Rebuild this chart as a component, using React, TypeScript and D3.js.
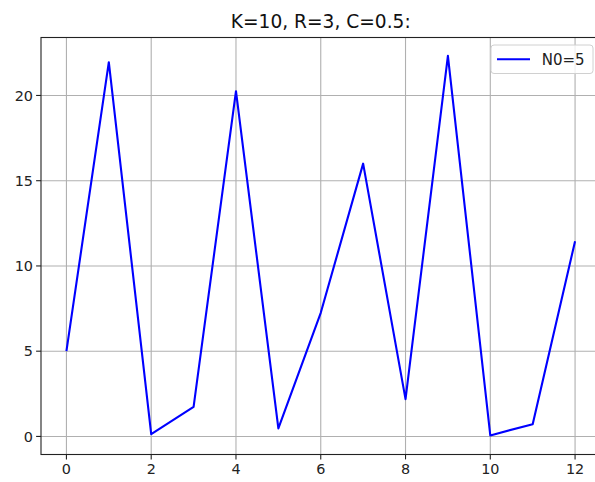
import React from 'react';
import * as d3 from 'd3';

const steps = [0, 1, 2, 3, 4, 5, 6, 7, 8, 9, 10, 11, 12];
const population = [5, 21.95, 0.13, 1.74, 20.25, 0.47, 7.25, 16.0, 2.19, 22.32, 0.06, 0.72, 11.45];
const xTicks = [0, 2, 4, 6, 8, 10, 12];
const yTicks = [0, 5, 10, 15, 20];
const seriesLabel = 'N0=5';
const title = 'K=10, R=3, C=0.5:';

const W = 595;
const H = 482;
const left = 41;
const top = 37.5;
const right = 600.5;
const bottom = 454.5;
const font = 'DejaVu Sans, sans-serif';

export default function App() {
  const x = d3.scaleLinear().domain([-0.6, 12.6]).range([left, right]);
  const y = d3.scaleLinear().domain([-1.06, 23.4]).range([bottom, top]);

  const line = d3
    .line<number>()
    .x((d, i) => x(steps[i]))
    .y((d) => y(d));

  return (
    <svg
      width={W}
      height={H}
      style={{ position: 'absolute', left: 0, top: 0, background: '#fff' }}
      fontFamily={font}
    >
      <rect x={0} y={0} width={W} height={H} fill="#fff" />
      {/* grid */}
      {xTicks.map((t) => (
        <line key={'gx' + t} x1={x(t)} x2={x(t)} y1={top} y2={bottom} stroke="#b0b0b0" strokeWidth={1.1} />
      ))}
      {yTicks.map((t) => (
        <line key={'gy' + t} x1={left} x2={right} y1={y(t)} y2={y(t)} stroke="#b0b0b0" strokeWidth={1.1} />
      ))}

      <path d={line(population) || ''} fill="none" stroke="#0000ff" strokeWidth={2.1} strokeLinejoin="round" />

      {/* spines */}
      <rect x={left} y={top} width={right - left} height={bottom - top} fill="none" stroke="#222" strokeWidth={1.1} />

      {/* ticks */}
      {xTicks.map((t) => (
        <g key={'tx' + t}>
          <line x1={x(t)} x2={x(t)} y1={bottom} y2={bottom + 4.9} stroke="#222" strokeWidth={1.1} />
          <text x={x(t)} y={bottom + 19.5} textAnchor="middle" fontSize={14.4} fill="#222">
            {t}
          </text>
        </g>
      ))}
      {yTicks.map((t) => (
        <g key={'ty' + t}>
          <line x1={left - 4.9} x2={left} y1={y(t)} y2={y(t)} stroke="#222" strokeWidth={1.1} />
          <text x={left - 8} y={y(t)} dy="0.36em" textAnchor="end" fontSize={14.4} fill="#222">
            {t}
          </text>
        </g>
      ))}

      <text x={(left + right) / 2} y={28.3} textAnchor="middle" fontSize={18.6} fill="#111">
        {title}
      </text>

      {/* legend */}
      <rect x={491} y={45} width={102} height={28.5} rx={3} fill="#fff" fillOpacity={0.8} stroke="#d0d0d0" strokeWidth={1} />
      <line x1={497} x2={530} y1={59.3} y2={59.3} stroke="#0000ff" strokeWidth={2.1} />
      <text x={541.7} y={59.3} dy="0.36em" fontSize={15} fill="#222">
        {seriesLabel}
      </text>
    </svg>
  );
}
